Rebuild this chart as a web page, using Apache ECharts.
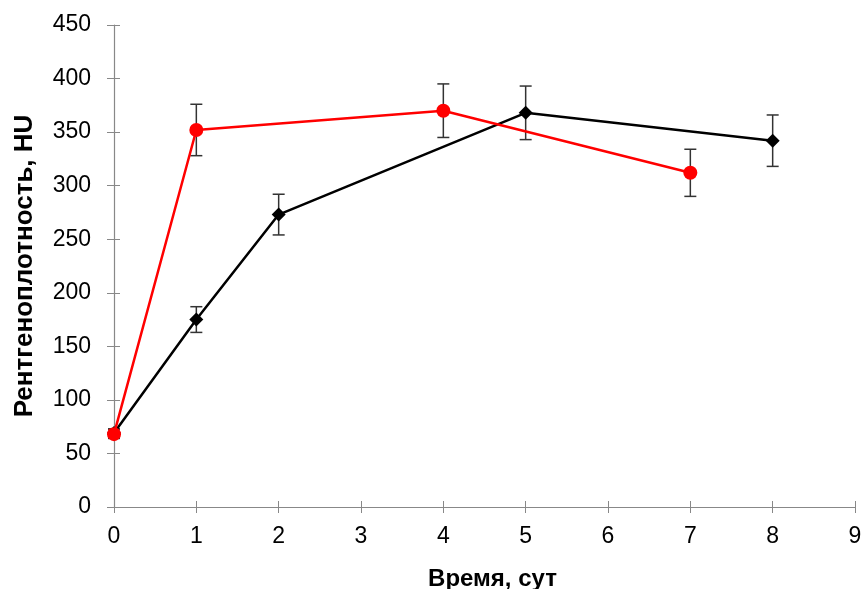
<!DOCTYPE html>
<html><head><meta charset="utf-8">
<script src="https://cdn.jsdelivr.net/npm/echarts@6/dist/echarts.min.js"></script>
<style>html,body{margin:0;padding:0;background:#fff}#c{width:861px;height:589px}</style>
</head><body><div id="c"></div>
<script>
const redX = [0, 1, 4, 7];
const redY = [68, 352, 370, 312];
const redErr = [4, 24, 25, 22];
const blackX = [0, 1, 2, 5, 8];
const blackY = [69, 175, 273, 368, 342];
const blackErr = [4, 12, 19, 25, 24];
const xTicks = [0,1,2,3,4,5,6,7,8,9];
const yName = 'Рентгеноплотность, HU';
const xName = 'Время, сут';

const chart = echarts.init(document.getElementById('c'));
function errData(xs, ys, es){ return xs.map((x,i)=>[x, ys[i]-es[i], ys[i]+es[i]]); }
function errRender(params, api){
  const x = api.value(0);
  const lo = api.coord([x, api.value(1)]);
  const hi = api.coord([x, api.value(2)]);
  const w = 6;
  const st = {stroke:'#333', lineWidth:1.5};
  return {type:'group', children:[
    {type:'line', shape:{x1:lo[0],y1:lo[1],x2:hi[0],y2:hi[1]}, style:st},
    {type:'line', shape:{x1:lo[0]-w,y1:lo[1],x2:lo[0]+w,y2:lo[1]}, style:st},
    {type:'line', shape:{x1:hi[0]-w,y1:hi[1],x2:hi[0]+w,y2:hi[1]}, style:st}
  ]};
}
const font = 'Liberation Sans, Arial, sans-serif';
const axisCol = '#888';
chart.setOption({
  animation:false,
  grid:{left:114, right:6, top:25, bottom:82, containLabel:false, outerBoundsMode:'none'},
  xAxis:[{type:'value', min:0, max:9, interval:1,
    name:xName, nameLocation:'middle', nameGap:60,
    nameTextStyle:{fontFamily:font, fontSize:24, fontWeight:'bold', color:'#000', padding:[0,0,0,16]},
    axisLine:{show:true, lineStyle:{color:axisCol, width:1.2}},
    axisTick:{show:true, length:6, lineStyle:{color:axisCol}},
    axisLabel:{fontFamily:font, fontSize:23, color:'#000', margin:18,
      formatter:v=>String(xTicks[v] !== undefined ? xTicks[v] : v)},
    splitLine:{show:false}},
   {type:'value', min:0, max:9, interval:1, position:'bottom',
    axisLine:{show:false}, axisLabel:{show:false}, splitLine:{show:false},
    axisTick:{show:true, inside:true, length:6, lineStyle:{color:axisCol}}}],
  yAxis:[{type:'value', min:0, max:450, interval:50,
    name:yName, nameLocation:'middle', nameGap:76, nameRotate:90,
    nameTextStyle:{fontFamily:font, fontSize:26, fontWeight:'bold', color:'#000'},
    axisLine:{show:true, lineStyle:{color:axisCol, width:1.2}},
    axisTick:{show:true, length:7, lineStyle:{color:axisCol}},
    axisLabel:{fontFamily:font, fontSize:23, color:'#000', margin:23},
    splitLine:{show:false}},
   {type:'value', min:0, max:450, interval:50, position:'left',
    axisLine:{show:false}, axisLabel:{show:false}, splitLine:{show:false},
    axisTick:{show:true, inside:true, length:6, lineStyle:{color:axisCol}}}],
  series:[
    {type:'custom', renderItem:errRender, data:errData(blackX, blackY, blackErr), z:1, encode:{x:0,y:[1,2]}},
    {type:'custom', renderItem:errRender, data:errData(redX, redY, redErr), z:1, encode:{x:0,y:[1,2]}},
    {type:'line', data:blackX.map((x,i)=>[x, blackY[i]]), z:3,
      lineStyle:{color:'#000', width:2.5}, itemStyle:{color:'#000'},
      symbol:'diamond', symbolSize:14, showAllSymbol:true},
    {type:'line', data:redX.map((x,i)=>[x, redY[i]]), z:4,
      lineStyle:{color:'#ff0000', width:2.5}, itemStyle:{color:'#ff0000'},
      symbol:'circle', symbolSize:14, showAllSymbol:true}
  ]
});
</script></body></html>
